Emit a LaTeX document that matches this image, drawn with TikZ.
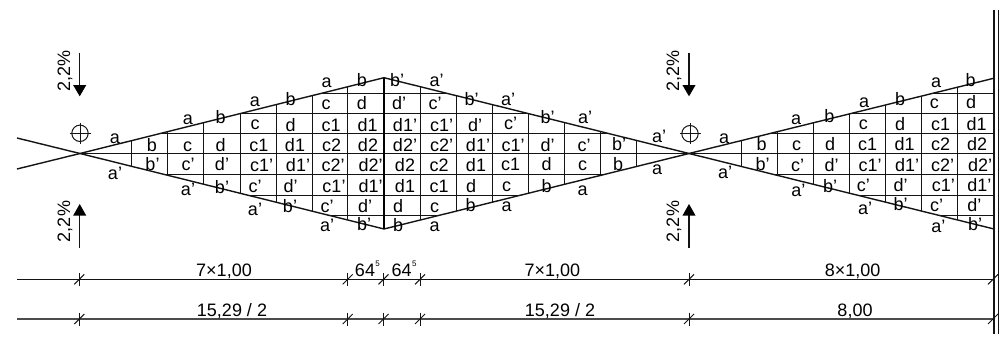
\documentclass[tikz,border=0pt]{standalone}
\usepackage{fontspec}
\setmainfont{Liberation Sans}
\tikzset{
  lab/.style={inner sep=0pt,anchor=base,font=\fontsize{18}{18}\selectfont,text=black},
  sup5/.style={inner sep=0pt,anchor=base,font=\fontsize{8}{8}\selectfont,text=black},
  slope/.style={rotate=90,inner sep=0pt,anchor=base,font=\fontsize{18}{18}\selectfont,text=black},
  ln/.style={line width=1.4pt,draw=black!92},
  thin ln/.style={line width=1pt,draw=black!92},
  hv ln/.style={line width=2.2pt,draw=black},
}
\begin{document}
\begin{tikzpicture}[x=1pt,y=-1pt]
\useasboundingbox (0,0) rectangle (1003,356);
\coordinate (A1) at (80,153.5);
\coordinate (A2) at (689,153.5);
\coordinate (P) at (384,77.7);
\coordinate (Q) at (384,229);
\coordinate (R) at (994,78.2);
\coordinate (S) at (994,229);
% grid inside diamond and right wing
\begin{scope}
\clip (A1) -- (P) -- (A2) -- (Q) -- cycle;
\foreach \x in {131.5,167.5,203.6,240.4,276.4,312.4,347.6,420.4,456.5,492.6,528.6,564.6,600.6,636.6}
  \draw[ln] (\x,70) -- (\x,240);
\foreach \y in {93.4,113.4,133.4,174.6,195.5,215.6}
  \draw[ln] (70,\y) -- (700,\y);
\end{scope}
\begin{scope}
\clip (A2) -- (R) -- (S) -- cycle;
\foreach \x in {741.6,777.5,813.6,849.6,885.6,921.6,957.6}
  \draw[ln] (\x,70) -- (\x,240);
\foreach \y in {93.4,113.4,133.4,174.6,195.5,215.6}
  \draw[ln] (680,\y) -- (994,\y);
\end{scope}
\draw[ln] (A1) -- (994,153.5);
\coordinate (LT) at (17,138);
\coordinate (LB) at (17,169);
\draw[ln] (LB) -- (A1) -- (P) -- (A2) -- (R);
\draw[ln] (LT) -- (A1) -- (Q) -- (A2) -- (S);
\draw[hv ln] (P) -- (Q);
% wall
\draw[ln] (994,10) -- (994,334);
\draw[ln] (998.3,10) -- (998.3,334);
% axis marks and slope arrows
\foreach \x/\yy in {80/133.3,690/133.7}{
  \draw[thin ln] (\x,\yy) circle[radius=8.2];
  \draw[thin ln] (\x-10.5,\yy) -- (\x+10.5,\yy);
  \draw[thin ln] (\x,\yy-10.5) -- (\x,\yy+10.5);
}
\foreach \x/\b in {79.7/70,689/679}{
  \draw[ln] (\x,52.7) -- (\x,88);
  \fill[black] (\x-6.6,85) -- (\x+6.6,85) -- (\x,96.3) -- cycle;
  \draw[ln] (\x,248) -- (\x,212);
  \fill[black] (\x-6.6,215.7) -- (\x+6.6,215.7) -- (\x,204) -- cycle;
  \node[slope] at (\b,71) {2,2\%};
  \node[slope] at (\b,221.5) {2,2\%};
}
% dimension lines
\draw[ln] (17,279.4) -- (994,279.4);
\draw[ln,draw=black!70] (17,319) -- (994,319);
\foreach \y in {279.3,319}{
  \foreach \x in {79.3,347.7,383.5,420,689,993}{
    \draw[thin ln] (\x,\y-6.5) -- (\x,\y+6.5);
    \draw[thin ln] (\x-5,\y+5) -- (\x+5,\y-5);
  }
}
% cell labels
\foreach \x/\y/\t [count=\i] in {
115/143.3/a,115/179.3/a’,
152/151/b,187.7/151/c,220.7/151/d,
152.5/170.7/b’,188/170.7/c’,222/170.7/d’,
188/124/a,220.7/123/b,188/195.7/a’,222/193/b’,
255/106.7/a,290.7/105/b,326.7/87.3/a,362/86.7/b,
255/215/a’,290/212.7/b’,327/231.7/a’,364/230.7/b’,
255/129/c,290.7/131/d,331/131/c1,367.7/131/d1,
326/109/c,362/109/d,
259/151.7/c1,295/151.7/d1,331.7/151.7/c2,368/151.7/d2,
261.7/171.7/c1’,298/171.7/d1’,333/171.7/c2’,370.7/171.7/d2’,
255/192/c’,290.7/192/d’,334/192/c1’,370.7/192/d1’,
327/212/c’,365/212/d’,
397/86.7/b’,436.7/86.7/a’,471.7/105/b’,
398/231.7/b,434.7/231.7/a,470.7/211.7/b,
398/212/d,434.7/212/c,
399/109/d’,435/109/c’,
405/131/d1’,441.7/131/c1’,475/131/d’,
405/151.7/d2’,441.7/151.7/c2’,478/151.7/d1’,
405/171.7/d2,439/171.7/c2,476/171.7/d1,
405/192/d1,439/192/c1,471/192/d,
508/105/a’,547.7/123.3/b’,585/123.3/a’,
510.7/129/c’,513/151.7/c1’,547.7/151.7/d’,584/151.7/c’,
510.7/170.7/c1,546.7/170.7/d,582.7/170.7/c,
506.7/191.7/c,506.7/211.7/a,546.7/192.3/b,582.7/195.7/a,
619/150.7/b’,618/170/b,659/142.7/a’,657/174.3/a,
724/143.3/a,725/178.3/a’,
761.7/150/b,796.7/150.7/c,830/150.7/d,867.7/150.7/c1,904.7/150.7/d1,940.7/150.7/c2,977/150.7/d2,
762.7/170.7/b’,797.7/171/c’,831.7/171/d’,870/171/c1’,907/171/d1’,942.7/171/c2’,980/171/d2’,
863.3/129.3/c,900/130.7/d,940.7/130.7/c1,976.7/130.7/d1,
934.3/108.7/c,971/108.7/d,
796/124/a,829.3/122.3/b,864/107.3/a,900/105/b,936/87.3/a,970.7/86/b,
863.3/191.7/c’,900.7/191.7/d’,943.3/191.7/c1’,979.3/191.7/d1’,
936.7/211.7/c’,974.3/211.7/d’,
798.3/196/a’,830/192.3/b’,865/214.3/a’,900.7/210.7/b’,938.3/232.3/a’,975/230/b’
}{
  \node[lab] (L\i) at (\x,\y) {\t};
}
% dimension labels
\node[lab] (d1) at (224,276) {7×1,00};
\node[lab] (d2) at (365,276) {64};
\node[sup5] (d2s) at (377.7,266) {5};
\node[lab] (d3) at (401.7,276) {64};
\node[sup5] (d3s) at (414.3,266) {5};
\node[lab] (d4) at (552.3,276) {7×1,00};
\node[lab] (d5) at (852.7,276) {8×1,00};
\node[lab] (e1) at (232,316) {15,29 / 2};
\node[lab] (e2) at (560,316) {15,29 / 2};
\node[lab] (e3) at (855,316) {8,00};
\end{tikzpicture}
\end{document}
